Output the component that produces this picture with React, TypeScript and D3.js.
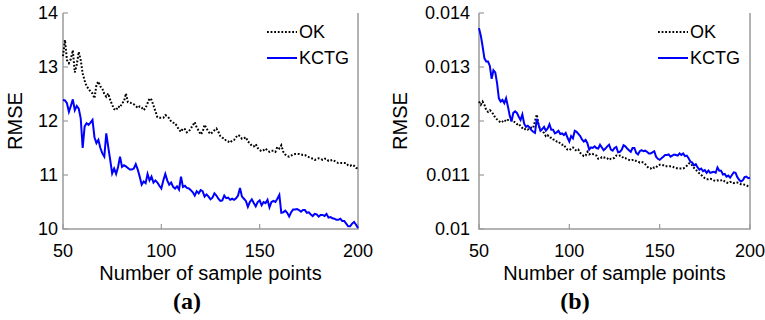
import React from "react";
import * as d3 from "d3";

// sample counts on the x axis (one value per sample count, 50..200)
const sampleCounts = d3.range(50, 201);
const xTicks = [50, 100, 150, 200];

// panel (a)
const okA = [
  13.2, 13.5, 13.13, 13.07, 13.15, 13.31, 12.9, 13.04, 13.28, 13.13,
  12.88, 12.75, 12.64, 12.6, 12.54, 12.51, 12.42, 12.67, 12.73, 12.64,
  12.6, 12.5, 12.45, 12.51, 12.39, 12.3, 12.22, 12.2, 12.27, 12.25,
  12.33, 12.36, 12.51, 12.35, 12.34, 12.33, 12.31, 12.28, 12.24, 12.27,
  12.25, 12.2, 12.24, 12.33, 12.42, 12.39, 12.29, 12.18, 12.07, 12.06,
  12.06, 12.06, 12.11, 12.09, 12.05, 11.99, 11.97, 11.96, 11.9, 11.84,
  11.8, 11.86, 11.85, 11.79, 11.81, 11.86, 11.92, 11.98, 11.88, 11.82,
  11.75, 11.8, 11.93, 11.86, 11.8, 11.76, 11.79, 11.83, 11.86, 11.8,
  11.72, 11.69, 11.68, 11.63, 11.62, 11.6, 11.64, 11.65, 11.7, 11.74,
  11.72, 11.67, 11.68, 11.7, 11.62, 11.59, 11.54, 11.53, 11.57, 11.5,
  11.46, 11.44, 11.46, 11.49, 11.45, 11.43, 11.45, 11.45, 11.43, 11.52,
  11.49, 11.55, 11.43, 11.38, 11.35, 11.34, 11.36, 11.38, 11.39, 11.39,
  11.39, 11.38, 11.37, 11.37, 11.35, 11.33, 11.32, 11.3, 11.28, 11.29,
  11.31, 11.3, 11.28, 11.3, 11.3, 11.26, 11.27, 11.28, 11.26, 11.24,
  11.22, 11.22, 11.22, 11.22, 11.22, 11.18, 11.17, 11.19, 11.17, 11.13,
  11.12,
];
const kctgA = [
  12.39, 12.38, 12.33, 12.17, 12.28, 12.4, 12.2, 12.28, 12.23, 12.05,
  11.5, 11.9, 11.96, 11.93, 11.97, 12.02, 11.7, 11.59, 11.65, 11.5,
  11.4, 11.34, 11.77, 11.52, 11.28, 11.03, 11.12, 11.02, 11.15, 11.34,
  11.15, 11.18, 11.16, 11.13, 11.1, 11.1, 11.12, 11.2, 11.1, 10.97,
  10.82, 10.88, 10.85, 11.02, 10.9, 10.97, 10.86, 10.9, 10.86, 10.8,
  10.75, 10.9, 11.02, 10.9, 10.82, 10.86, 10.78, 10.75, 10.79, 10.73,
  10.97, 10.78, 10.8, 10.76, 10.75, 10.72, 10.68, 10.62, 10.7, 10.66,
  10.72, 10.7, 10.6, 10.64, 10.6, 10.55, 10.58, 10.66, 10.62, 10.56,
  10.52, 10.53, 10.62, 10.57, 10.58, 10.54, 10.56, 10.54, 10.57, 10.62,
  10.76, 10.6, 10.56, 10.52, 10.41, 10.5, 10.55, 10.48, 10.42, 10.5,
  10.53, 10.44, 10.5, 10.48, 10.54, 10.4, 10.5, 10.52, 10.5, 10.56,
  10.63, 10.3, 10.31, 10.34, 10.3, 10.23, 10.31, 10.36, 10.36, 10.37,
  10.35, 10.32, 10.35, 10.35, 10.3, 10.31, 10.27, 10.24, 10.28, 10.27,
  10.23, 10.26, 10.26, 10.24, 10.28, 10.21, 10.22, 10.2, 10.19, 10.17,
  10.17, 10.19, 10.15, 10.15, 10.1, 10.05, 10.05, 10.1, 10.13, 10.08,
  10.02,
];
const yTicksA = [10, 11, 12, 13, 14];
const yLabelsA = ["10", "11", "12", "13", "14"];

// panel (b)
const okB = [
  0.01236, 0.0123, 0.01236, 0.0123, 0.0122, 0.01217, 0.0122, 0.01217, 0.01212, 0.01206,
  0.01203, 0.012, 0.01197, 0.01199, 0.01202, 0.01199, 0.01202, 0.01202, 0.01202, 0.012,
  0.01197, 0.01194, 0.01195, 0.0119, 0.01187, 0.01184, 0.01186, 0.01184, 0.01186, 0.01188,
  0.01187, 0.012, 0.01212, 0.01192, 0.01184, 0.01181, 0.01178, 0.01172, 0.01174, 0.01169,
  0.01169, 0.01166, 0.01165, 0.01162, 0.01162, 0.01158, 0.01156, 0.01156, 0.0115, 0.01147,
  0.01146, 0.01149, 0.01151, 0.01147, 0.01145, 0.01147, 0.01141, 0.01138, 0.01135, 0.01136,
  0.01143, 0.01138, 0.0114, 0.01139, 0.01137, 0.01136, 0.0113, 0.0113, 0.01133, 0.01132,
  0.01133, 0.01131, 0.01128, 0.0113, 0.0113, 0.01132, 0.01136, 0.01135, 0.01136, 0.01135,
  0.01131, 0.01131, 0.01129, 0.01128, 0.01127, 0.01128, 0.01128, 0.01126, 0.01125, 0.01123,
  0.01124, 0.01123, 0.0112, 0.01116, 0.01113, 0.01112, 0.01115, 0.01113, 0.01114, 0.01118,
  0.01119, 0.01119, 0.01118, 0.01116, 0.01116, 0.01116, 0.01116, 0.01116, 0.01114, 0.01113,
  0.01112, 0.01112, 0.01112, 0.01112, 0.01114, 0.01117, 0.01121, 0.01122, 0.01118, 0.01113,
  0.0111, 0.01106, 0.01103, 0.011, 0.01097, 0.01094, 0.01092, 0.01092, 0.01093, 0.01092,
  0.0109, 0.01089, 0.0109, 0.01089, 0.0109, 0.01091, 0.01088, 0.01086, 0.01085, 0.01087,
  0.01087, 0.01085, 0.01086, 0.01086, 0.01085, 0.01083, 0.01083, 0.01082, 0.01081, 0.01079,
  0.01078,
];
const kctgB = [
  0.01372, 0.01358, 0.01338, 0.01316, 0.0131, 0.0131, 0.01302, 0.01278, 0.01294, 0.0129,
  0.0127, 0.01242, 0.01236, 0.01239, 0.01233, 0.01242, 0.01227, 0.0121, 0.01199, 0.01215,
  0.01218, 0.01215, 0.01208, 0.01202, 0.01212, 0.01195, 0.01189, 0.01191, 0.01188, 0.01183,
  0.0118, 0.01178, 0.01204, 0.01193, 0.01182, 0.01185, 0.01189, 0.01182, 0.01186, 0.01194,
  0.01184, 0.01184, 0.01177, 0.01179, 0.01182, 0.01176, 0.01177, 0.01174, 0.01178, 0.01169,
  0.01162, 0.01172, 0.01168, 0.01182, 0.0118, 0.01176, 0.01172, 0.01166, 0.01162, 0.01165,
  0.01159, 0.01147, 0.01151, 0.0115, 0.01153, 0.0115, 0.01149, 0.01156, 0.01151, 0.01146,
  0.01149, 0.01153, 0.01156, 0.01147, 0.01145, 0.0115, 0.01152, 0.01142, 0.01143, 0.01147,
  0.01155, 0.01153, 0.01149, 0.01146, 0.01143, 0.0115, 0.0115, 0.01141, 0.01138, 0.01144,
  0.01146, 0.01144, 0.01145, 0.01143, 0.0114, 0.0114, 0.01142, 0.01144, 0.01134, 0.0113,
  0.01128, 0.01131, 0.01134, 0.01137, 0.01137, 0.01138, 0.01134, 0.01136, 0.01138, 0.01137,
  0.01136, 0.0114, 0.01137, 0.0114, 0.01135, 0.01136, 0.01131, 0.01125, 0.01123, 0.01118,
  0.0112, 0.01114, 0.0111, 0.01112, 0.01107, 0.01109, 0.01104, 0.01108, 0.01104, 0.01105,
  0.01106, 0.01104, 0.01114, 0.01108, 0.01108, 0.01101, 0.01102, 0.01097, 0.01099, 0.01095,
  0.011, 0.01105, 0.01104, 0.01096, 0.01091, 0.01088, 0.0109, 0.01096, 0.01097, 0.01094,
  0.01095,
];
const yTicksB = [0.01, 0.011, 0.012, 0.013, 0.014];
const yLabelsB = ["0.01", "0.011", "0.012", "0.013", "0.014"];

const sans = "'Liberation Sans', Arial, sans-serif";
const serif = "'Liberation Serif', 'Times New Roman', serif";
const axisGray = "#9a9a9a";

function Panel({ x0, x1, ok, kctg, yTicks, yLabels, tag, tagX, legendX, rmseX, labelGap }) {
  const top = 13;
  const bottom = 229;
  const x = d3.scaleLinear().domain([50, 200]).range([x0, x1]);
  const y = d3
    .scaleLinear()
    .domain([yTicks[0], yTicks[yTicks.length - 1]])
    .range([bottom, top]);

  const line = d3
    .line<number>()
    .x((_, i) => x(sampleCounts[i]))
    .y((d) => y(d));

  return (
    <g>
      {/* axes frame: left, bottom, right */}
      <path
        d={`M${x0},${top}V${bottom}H${x1}V${top}`}
        fill="none"
        stroke={axisGray}
        strokeWidth={1.5}
      />

      {/* y ticks */}
      {yTicks.map((t, i) => (
        <g key={t}>
          <line x1={x0} x2={x0 + 5} y1={y(t)} y2={y(t)} stroke={axisGray} strokeWidth={1.2} />
          <text
            x={x0 - labelGap}
            y={y(t)}
            dy="0.35em"
            textAnchor="end"
            fontSize={18}
            fontFamily={sans}
          >
            {yLabels[i]}
          </text>
        </g>
      ))}

      {/* x ticks */}
      {xTicks.map((t) => (
        <g key={t}>
          <line x1={x(t)} x2={x(t)} y1={bottom} y2={bottom - 5} stroke={axisGray} strokeWidth={1.2} />
          <text x={x(t)} y={257} textAnchor="middle" fontSize={18} fontFamily={sans}>
            {t}
          </text>
        </g>
      ))}

      {/* series */}
      <path
        d={line(ok) || ""}
        fill="none"
        stroke="#000"
        strokeWidth={2}
        strokeDasharray="1.8 1.8"
      />
      <path d={line(kctg) || ""} fill="none" stroke="#0000ff" strokeWidth={2} />

      {/* legend */}
      <line x1={legendX} x2={legendX + 30} y1={32} y2={32} stroke="#000" strokeWidth={2} strokeDasharray="1.8 1.8" />
      <text x={legendX + 32} y={32} dy="0.35em" fontSize={18} fontFamily={sans}>
        OK
      </text>
      <line x1={legendX} x2={legendX + 30} y1={58} y2={58} stroke="#0000ff" strokeWidth={2} />
      <text x={legendX + 32} y={58} dy="0.35em" fontSize={18} fontFamily={sans}>
        KCTG
      </text>

      {/* axis titles */}
      <text
        transform={`translate(${rmseX},${(top + bottom) / 2}) rotate(-90)`}
        textAnchor="middle"
        fontSize={20}
        fontFamily={sans}
      >
        RMSE
      </text>
      <text x={(x0 + x1) / 2} y={280} textAnchor="middle" fontSize={20} fontFamily={sans}>
        Number of sample points
      </text>
      <text x={tagX} y={309} textAnchor="middle" fontSize={24} fontWeight="bold" fontFamily={serif}>
        {tag}
      </text>
    </g>
  );
}

export default function App() {
  return (
    <svg
      width={765}
      height={320}
      style={{ position: "absolute", left: 0, top: 0, background: "#fff" }}
    >
      <Panel x0={63} x1={358} ok={okA} kctg={kctgA} yTicks={yTicksA} yLabels={yLabelsA}
        tag="(a)" tagX={187} legendX={267} rmseX={22} labelGap={5} />
      <Panel x0={479} x1={750} ok={okB} kctg={kctgB} yTicks={yTicksB} yLabels={yLabelsB}
        tag="(b)" tagX={575} legendX={658} rmseX={407} labelGap={9} />
    </svg>
  );
}
